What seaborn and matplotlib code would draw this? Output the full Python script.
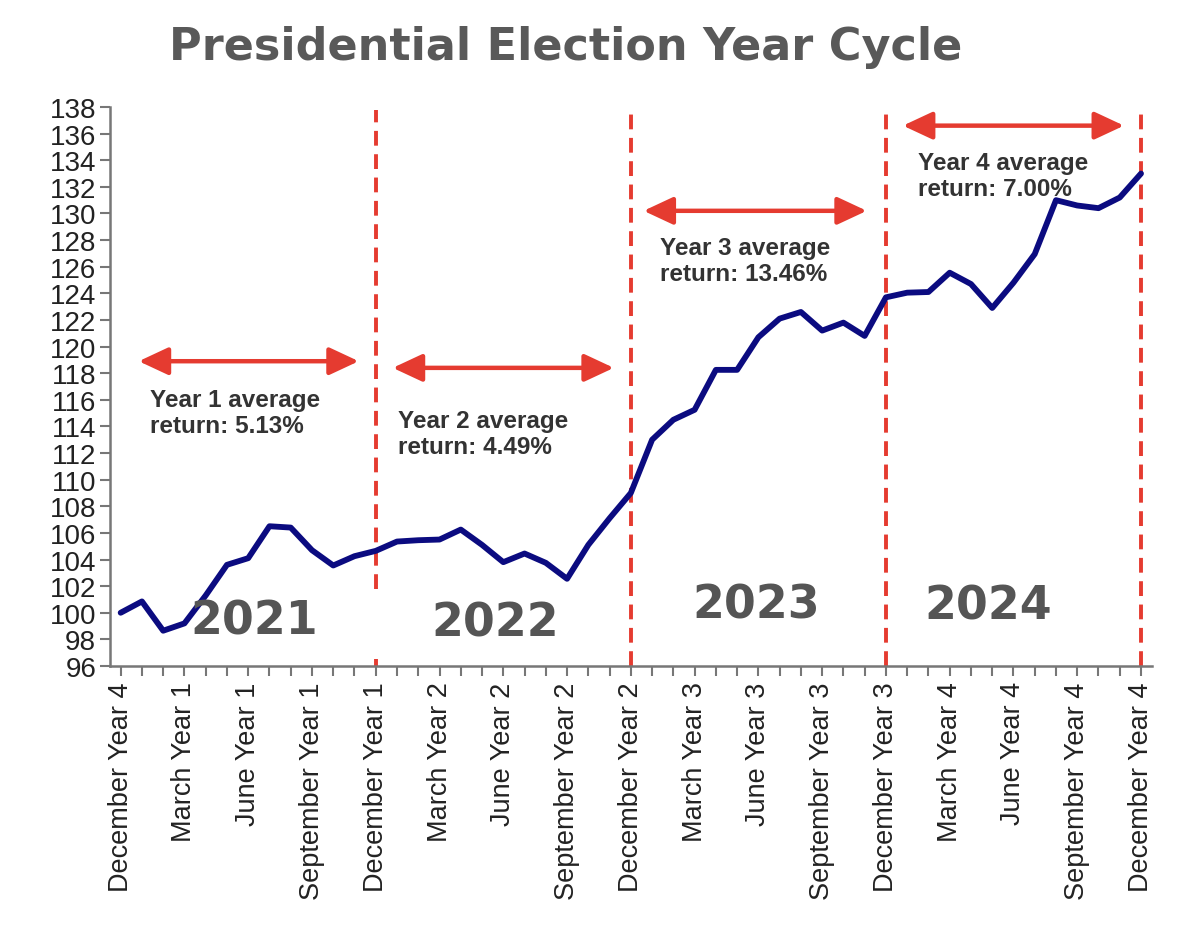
import numpy as np
import pandas as pd
import seaborn as sns
import matplotlib.pyplot as plt

# index level, month by month, December Year 4 .. December Year 4
index_values = [100.0, 100.85, 98.65, 99.2, 101.3, 103.6, 104.1, 106.5, 106.4, 104.7,
                103.55, 104.25, 104.65, 105.35, 105.45, 105.5, 106.25, 105.1, 103.8, 104.45,
                103.75, 102.55, 105.1, 107.1, 109.0, 113.0, 114.5, 115.25, 118.25, 118.25,
                120.7, 122.1, 122.6, 121.2, 121.8, 120.8, 123.7, 124.05, 124.1, 125.55,
                124.7, 122.9, 124.8, 126.95, 131.0, 130.6, 130.4, 131.2, 133.0]

months = ["December", "January", "February", "March", "April", "May", "June",
          "July", "August", "September", "October", "November"]
tick_labels = ["December Year 4"] + [
    f"{months[m % 12]} Year {(m - 1) // 12 + 1}" for m in range(1, 49)
]

years = ["2021", "2022", "2023", "2024"]
avg_returns = ["5.13%", "4.49%", "13.46%", "7.00%"]

df = pd.DataFrame({"month": np.arange(len(index_values)), "index": index_values})

sns.set_theme(style="white")
plt.rcParams["font.family"] = ["Liberation Sans", "DejaVu Sans"]

fig = plt.figure(figsize=(12, 9.45), dpi=100)
ax = fig.add_axes([0.0917, 0.2942, 0.868, 0.5915])

red = "#e53b30"
grey = "#555555"

# year dividers
for i, m in enumerate([12, 24, 36, 48]):
    lo = 101.8 if i == 0 else 96
    ax.vlines(m, lo, 137.8, color=red, lw=2.8, linestyle=(0, (3.8, 2.2)), zorder=2)
ax.vlines(12, 96, 96.5, color=red, lw=2.8, zorder=2)

sns.lineplot(data=df, x="month", y="index", color="#0b0b80", lw=4.2, ax=ax, zorder=3)

# arrows
arrow_spec = [(0.85, 11.2, 118.9), (12.8, 23.2, 118.4), (24.6, 35.1, 130.2), (36.8, 47.2, 136.6)]
for x0, x1, y in arrow_spec:
    ax.annotate("", xy=(x1, y), xytext=(x0, y),
                arrowprops=dict(arrowstyle="<|-|>,head_length=0.9,head_width=0.42",
                                color=red, lw=3.2, mutation_scale=20, shrinkA=0, shrinkB=0))

# text labels
text_pos = [(1.4, 116.9), (13.05, 115.3), (25.35, 128.3), (37.5, 134.7)]
for i, (tx, ty) in enumerate(text_pos):
    ax.text(tx, ty, f"Year {i + 1} average\nreturn: {avg_returns[i]}", fontsize=17.5,
            fontweight="bold", color="#333333", va="top", ha="left", linespacing=1.15)

year_pos = [(6.28, 99.4), (17.6, 99.2), (29.9, 100.6), (40.8, 100.5)]
for yr, (yx, yy) in zip(years, year_pos):
    ax.text(yx, yy, yr, fontsize=33, fontweight="bold", color=grey,
            family="DejaVu Sans", ha="center", va="center")

ax.set_xlim(-0.5, 48.5)
ax.set_ylim(96, 138)
ax.set_yticks(np.arange(96, 139, 2))
ax.set_xticks(np.arange(0, 49, 3))
ax.set_xticklabels(tick_labels[::3], rotation=90)
ax.set_xticks(np.arange(0, 49), minor=True)
ax.tick_params(axis="both", which="both", direction="out", color="#777777",
               length=7, width=1.5, labelcolor="#222222")
ax.tick_params(axis="x", which="both", bottom=True, pad=4, labelsize=19.5)
ax.tick_params(axis="y", left=True, pad=3, labelsize=20)
ax.set_xlabel("")
ax.set_ylabel("")

for s in ["top", "right"]:
    ax.spines[s].set_visible(False)
for s in ["left", "bottom"]:
    ax.spines[s].set_color("#777777")
    ax.spines[s].set_linewidth(1.8)

fig.text(0.471, 0.950, "Presidential Election Year Cycle", fontsize=32,
         fontweight="bold", color="#595959", family="DejaVu Sans",
         ha="center", va="center")

fig.savefig("out.png", dpi=100)
